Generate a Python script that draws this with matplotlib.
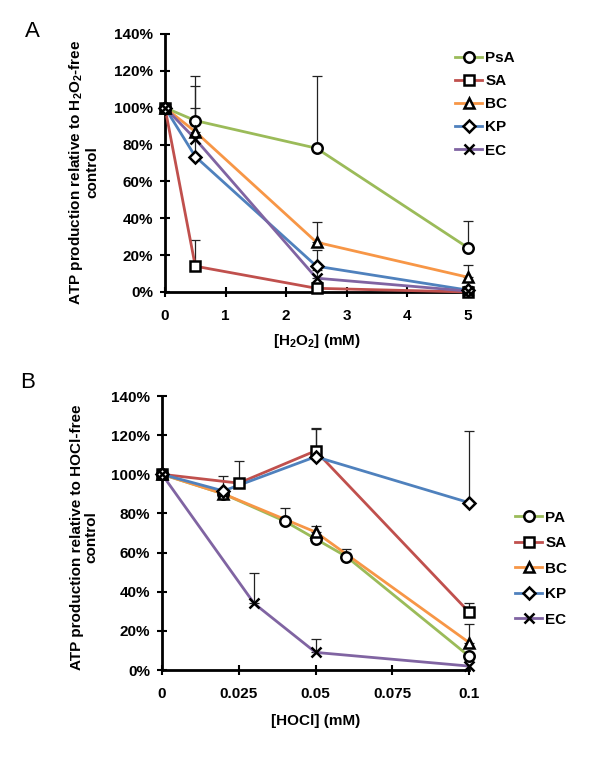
import matplotlib
matplotlib.use("Agg")
import matplotlib.pyplot as plt
import numpy as np

plt.rcParams['font.family'] = ['Liberation Sans', 'DejaVu Sans']
plt.rcParams['mathtext.fontset'] = 'custom'
plt.rcParams['mathtext.rm'] = 'Liberation Sans'
plt.rcParams['mathtext.bf'] = 'Liberation Sans:bold'

colors = {'green': '#9BBB59', 'red': '#C0504D', 'orange': '#F79646',
          'blue': '#4F81BD', 'purple': '#8064A2'}

# panel A: H2O2 (mM)
a_names = ['PsA', 'SA', 'BC', 'KP', 'EC']
a_x = [[0, 0.5, 2.5, 5], [0, 0.5, 2.5, 5], [0, 0.5, 2.5, 5], [0, 0.5, 2.5, 5], [0, 0.5, 2.5, 5]]
a_y = [[100, 93, 78, 24],
       [100, 14, 2, 0],
       [100, 87, 27, 8],
       [100, 73.5, 14, 1],
       [100, 83, 7.5, 0.5]]
a_err = [[0, 24, 39, 14.5],
         [0, 14, 0, 0],
         [0, 25, 11, 6.5],
         [0, 26.5, 9, 0],
         [0, 0, 4.5, 0]]

# panel B: HOCl (mM)
b_names = ['PA', 'SA', 'BC', 'KP', 'EC']
b_x = [[0, 0.02, 0.04, 0.05, 0.06, 0.1],
       [0, 0.025, 0.05, 0.1],
       [0, 0.02, 0.05, 0.1],
       [0, 0.02, 0.05, 0.1],
       [0, 0.03, 0.05, 0.1]]
b_y = [[100, 90, 76, 67, 58, 7],
       [100, 95.5, 112, 29.5],
       [100, 90, 70.5, 14],
       [100, 91.5, 109, 85.5],
       [100, 34, 9, 2]]
b_err = [[0, 0, 7, 0, 4, 0],
         [0, 11.5, 11.5, 4.5],
         [0, 0, 3, 9.5],
         [0, 7.5, 14, 36.5],
         [0, 15.5, 7, 0]]

series_colors = ['green', 'red', 'orange', 'blue', 'purple']
markers = ['o', 's', '^', 'D', 'x']
msizes = [7.5, 7.5, 7.5, 6, 7.5]
FS = 11

fig = plt.figure(figsize=(6, 7.6), dpi=100)
axA = fig.add_axes([0.275, 0.6158, 0.505, 0.3395])
axB = fig.add_axes([0.27, 0.1184, 0.512, 0.3605])


def draw(ax, xs, ys, errs, names):
    handles = []
    for i in range(5):
        c = colors[series_colors[i]]
        x = np.array(xs[i])
        y = np.array(ys[i])
        e = np.array(errs[i])
        mask = e > 0
        eb = ax.errorbar(x[mask], y[mask], yerr=[np.zeros(mask.sum()), e[mask]],
                         fmt='none', ecolor='#222222', elinewidth=0.9, capsize=3.5,
                         capthick=0.9, zorder=2)
        for art in eb.lines[1] + eb.lines[2]:
            art.set_clip_on(False)
        ax.plot(x, y, color=c, lw=2, zorder=3, clip_on=False)
        mfc = 'none' if markers[i] == 'x' else 'white'
        ax.plot(x, y, ls='none', marker=markers[i], ms=msizes[i], mfc=mfc,
                mec='black', mew=1.8, zorder=4, clip_on=False)
        h, = ax.plot([], [], color=c, lw=2, marker=markers[i], ms=msizes[i],
                     mfc=mfc, mec='black', mew=1.8)
        handles.append(h)
    for s in ['top', 'right']:
        ax.spines[s].set_visible(False)
    for s in ['left', 'bottom']:
        ax.spines[s].set_linewidth(2)
    ax.tick_params(direction='inout', length=7, width=1.5, labelsize=FS)
    ax.tick_params(axis='y', pad=5)
    ax.tick_params(axis='x', pad=9)
    ax.set_ylim(0, 140)
    ax.set_yticks(range(0, 141, 20))
    ax.set_yticklabels(['%d%%' % v for v in range(0, 141, 20)], fontweight='bold')
    return handles


hA = draw(axA, a_x, a_y, a_err, a_names)
axA.set_xlim(0, 5)
axA.set_xticks(range(6))
axA.set_xticklabels([str(v) for v in range(6)], fontweight='bold')
axA.set_xlabel(r'[H$\mathbf{_2}$O$\mathbf{_2}$] (mM)', fontsize=FS, fontweight='bold')
axA.xaxis.set_label_coords(0.5, -0.155)
axA.set_ylabel('ATP production relative to H$\\mathbf{_2}$O$\\mathbf{_2}$-free\ncontrol',
               fontsize=FS, fontweight='bold', linespacing=1.05)
axA.yaxis.set_label_coords(-0.215, 0.465)
fig.legend(hA, a_names, loc='upper left', bbox_to_anchor=(0.758, 0.933),
           frameon=False, handlelength=1.8, labelspacing=0.6, borderpad=0,
           borderaxespad=0, prop={'weight': 'bold', 'size': FS}, handletextpad=0.2)

hB = draw(axB, b_x, b_y, b_err, b_names)
axB.set_xlim(0, 0.1)
axB.set_xticks([0, 0.025, 0.05, 0.075, 0.1])
axB.set_xticklabels(['0', '0.025', '0.05', '0.075', '0.1'], fontweight='bold')
axB.set_xlabel('[HOCl] (mM)', fontsize=FS, fontweight='bold')
axB.xaxis.set_label_coords(0.5, -0.16)
axB.set_ylabel('ATP production relative to HOCl-free\ncontrol',
               fontsize=FS, fontweight='bold', linespacing=1.05)
axB.yaxis.set_label_coords(-0.208, 0.485)
fig.legend(hB, b_names, loc='upper left', bbox_to_anchor=(0.858, 0.328),
           frameon=False, handlelength=1.8, labelspacing=0.75, borderpad=0,
           borderaxespad=0, prop={'weight': 'bold', 'size': FS}, handletextpad=0.2)

fig.text(0.042, 0.959, 'A', fontsize=16, va='center')
fig.text(0.033, 0.497, 'B', fontsize=16, va='center')

fig.savefig('out.png', dpi=100)
